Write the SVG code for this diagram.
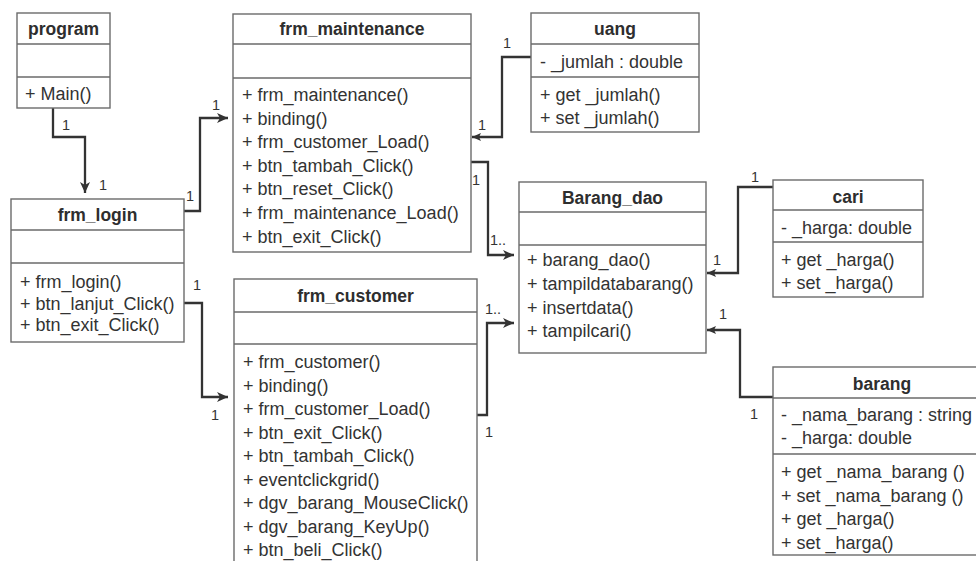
<svg xmlns="http://www.w3.org/2000/svg" width="976" height="561" viewBox="0 0 976 561">
  <style>
    .box { fill: #ffffff; stroke: #6b6b6b; stroke-width: 1.4; }
    .sep { stroke: #6b6b6b; stroke-width: 1.4; fill: none; }
    .title { font-family: "Liberation Sans", Arial, sans-serif; font-size: 17.5px; font-weight: bold; fill: #2e2e2e; text-anchor: middle; }
    .mem { font-family: "Liberation Sans", Arial, sans-serif; font-size: 18px; fill: #333333; }
    .lbl { font-family: "Liberation Sans", Arial, sans-serif; font-size: 14.5px; fill: #333333; }
    .link { fill: none; stroke: #333333; stroke-width: 2.3; stroke-linejoin: miter; }
  </style>
  <defs>
    <marker id="head" markerUnits="userSpaceOnUse" markerWidth="12" markerHeight="10" refX="11" refY="5" orient="auto">
      <path d="M0,0 L11,5 L0,10 L3,5 z" fill="#333333"/>
    </marker>
    <marker id="head-sm" markerUnits="userSpaceOnUse" markerWidth="10" markerHeight="8" refX="9" refY="4" orient="auto">
      <path d="M0,0 L9,4 L0,8 L2,4 z" fill="#333333"/>
    </marker>
  </defs>
  <rect width="976" height="561" fill="#ffffff"/>

  <!-- associations between classes -->
  <g id="connectors">
    <path class="link" d="M53,108 V137 H85 V193" marker-end="url(#head)"/>
    <path class="link" d="M184,211 H200 V118 H228" marker-end="url(#head)"/>
    <path class="link" d="M184,303 H202 V397 H228" marker-end="url(#head)"/>
    <path class="link" d="M531,57 H502 V137 H472" marker-end="url(#head-sm)"/>
    <path class="link" d="M471,162 H488 V255 H514" marker-end="url(#head)"/>
    <path class="link" d="M477,415 H487 V323 H514" marker-end="url(#head)"/>
    <path class="link" d="M773,187 H738 V273 H707" marker-end="url(#head-sm)"/>
    <path class="link" d="M773,397 H740 V330 H707" marker-end="url(#head-sm)"/>

    <text class="lbl" x="62" y="130">1</text>
    <text class="lbl" x="99" y="190">1</text>
    <text class="lbl" x="186" y="201">1</text>
    <text class="lbl" x="212" y="110">1</text>
    <text class="lbl" x="193" y="290">1</text>
    <text class="lbl" x="211" y="420">1</text>
    <text class="lbl" x="503" y="48">1</text>
    <text class="lbl" x="478" y="130">1</text>
    <text class="lbl" x="472" y="185">1</text>
    <text class="lbl" x="490" y="245">1..</text>
    <text class="lbl" x="485" y="314">1..</text>
    <text class="lbl" x="485" y="437">1</text>
    <text class="lbl" x="751" y="182">1</text>
    <text class="lbl" x="713" y="265">1</text>
    <text class="lbl" x="719" y="319">1</text>
    <text class="lbl" x="750" y="419">1</text>
  </g>

  <g id="program">
    <rect class="box" x="17" y="13" width="93" height="95"/>
    <path class="sep" d="M17,44 H110 M17,77 H110"/>
    <text class="title" x="63.5" y="35">program</text>
    <text class="mem" x="25" y="100">+ Main()</text>
  </g>

  <g id="frm_login">
    <rect class="box" x="11" y="199" width="173" height="143"/>
    <path class="sep" d="M11,230 H184 M11,263 H184"/>
    <text class="title" x="97.5" y="221">frm_login</text>
    <text class="mem" x="20" y="288">+ frm_login()</text>
    <text class="mem" x="20" y="309.5">+ btn_lanjut_Click()</text>
    <text class="mem" x="20" y="331">+ btn_exit_Click()</text>
  </g>

  <g id="frm_maintenance">
    <rect class="box" x="233" y="14" width="238" height="238"/>
    <path class="sep" d="M233,44 H471 M233,78 H471"/>
    <text class="title" x="352" y="35">frm_maintenance</text>
    <text class="mem" x="242" y="101">+ frm_maintenance()</text>
    <text class="mem" x="242" y="124.6">+ binding()</text>
    <text class="mem" x="242" y="148.2">+ frm_customer_Load()</text>
    <text class="mem" x="242" y="171.8">+ btn_tambah_Click()</text>
    <text class="mem" x="242" y="195.4">+ btn_reset_Click()</text>
    <text class="mem" x="242" y="219">+ frm_maintenance_Load()</text>
    <text class="mem" x="242" y="242.6">+ btn_exit_Click()</text>
  </g>

  <g id="uang">
    <rect class="box" x="531" y="13" width="168" height="119"/>
    <path class="sep" d="M531,44 H699 M531,77 H699"/>
    <text class="title" x="615" y="35">uang</text>
    <text class="mem" x="540" y="67.5">- _jumlah : double</text>
    <text class="mem" x="540" y="101">+ get _jumlah()</text>
    <text class="mem" x="540" y="124">+ set _jumlah()</text>
  </g>

  <g id="frm_customer">
    <rect class="box" x="234" y="279" width="243" height="300"/>
    <path class="sep" d="M234,312 H477 M234,344 H477"/>
    <text class="title" x="355.5" y="302">frm_customer</text>
    <text class="mem" x="243" y="368">+ frm_customer()</text>
    <text class="mem" x="243" y="391.5">+ binding()</text>
    <text class="mem" x="243" y="415">+ frm_customer_Load()</text>
    <text class="mem" x="243" y="438.5">+ btn_exit_Click()</text>
    <text class="mem" x="243" y="462">+ btn_tambah_Click()</text>
    <text class="mem" x="243" y="485.5">+ eventclickgrid()</text>
    <text class="mem" x="243" y="509">+ dgv_barang_MouseClick()</text>
    <text class="mem" x="243" y="532.5">+ dgv_barang_KeyUp()</text>
    <text class="mem" x="243" y="556">+ btn_beli_Click()</text>
  </g>

  <g id="Barang_dao">
    <rect class="box" x="519" y="182" width="187" height="171"/>
    <path class="sep" d="M519,212 H706 M519,245 H706"/>
    <text class="title" x="612.5" y="204">Barang_dao</text>
    <text class="mem" x="527" y="266">+ barang_dao()</text>
    <text class="mem" x="527" y="290">+ tampildatabarang()</text>
    <text class="mem" x="527" y="314">+ insertdata()</text>
    <text class="mem" x="527" y="337">+ tampilcari()</text>
  </g>

  <g id="cari">
    <rect class="box" x="773" y="180" width="150" height="117"/>
    <path class="sep" d="M773,210 H923 M773,242 H923"/>
    <text class="title" x="848" y="203">cari</text>
    <text class="mem" x="781" y="234">- _harga: double</text>
    <text class="mem" x="781" y="266">+ get _harga()</text>
    <text class="mem" x="781" y="289">+ set _harga()</text>
  </g>

  <g id="barang">
    <rect class="box" x="773" y="367" width="218" height="188"/>
    <path class="sep" d="M773,398 H991 M773,454 H991"/>
    <text class="title" x="882" y="390">barang</text>
    <text class="mem" x="781" y="421">- _nama_barang : string</text>
    <text class="mem" x="781" y="444">- _harga: double</text>
    <text class="mem" x="781" y="478">+ get _nama_barang ()</text>
    <text class="mem" x="781" y="501.5">+ set _nama_barang ()</text>
    <text class="mem" x="781" y="525">+ get _harga()</text>
    <text class="mem" x="781" y="548.5">+ set _harga()</text>
  </g>
</svg>
